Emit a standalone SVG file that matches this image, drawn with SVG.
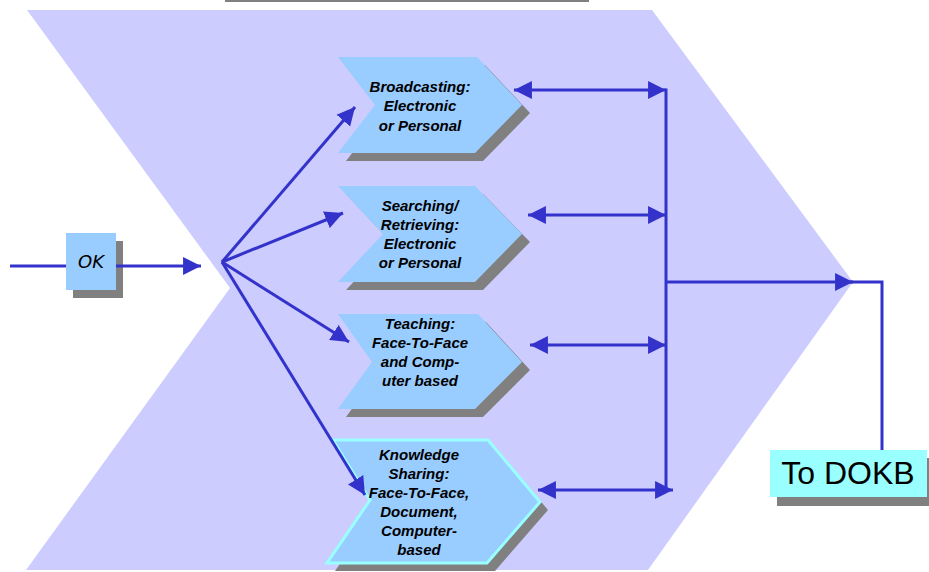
<svg xmlns="http://www.w3.org/2000/svg" width="929" height="572" viewBox="0 0 929 572">
<defs>
<style>
.bg{fill:#CCCCFF}
.shadow{fill:#808080}
.chev{fill:#99CCFF}
.chevk{fill:#99CCFF;stroke:#99FFFF;stroke-width:3}
.lbl{font-family:"Liberation Sans",Arial,sans-serif;font-size:15px;font-weight:bold;font-style:italic;fill:#000;text-anchor:middle}
.conn{stroke:#3333CC;stroke-width:3;fill:none}
</style>
<marker id="ah" markerUnits="userSpaceOnUse" markerWidth="19" markerHeight="19" refX="17" refY="8.5" orient="auto-start-reverse" viewBox="0 0 18 17">
<path d="M0,0 L17,8.5 L0,17 z" fill="#3333CC"/>
</marker>
</defs>
<rect width="929" height="572" fill="#FFFFFF"/>
<line x1="225" y1="1" x2="589" y2="1" stroke="#808080" stroke-width="2"/>
<polygon class="bg" points="27,10 652,10 853,282 648,570 26,570 230,288"/>

<g id="ok">
<rect class="shadow" x="73" y="241" width="50" height="57"/>
<rect class="chev" x="66" y="233" width="50" height="57"/>
<text x="91" y="268" font-family="DejaVu Sans,sans-serif" font-size="18" font-style="italic" text-anchor="middle" fill="#000">OK</text>
</g>

<g id="broadcasting">
<polygon class="shadow" points="346,65 485,65 530,113 483,161 346,161 383,113"/>
<polygon class="chev" points="338,57 477,57 522,105 475,153 338,153 375,105"/>
<text class="lbl" x="420" y="92">Broadcasting:</text>
<text class="lbl" x="420" y="111">Electronic</text>
<text class="lbl" x="420" y="131">or Personal</text>
</g>

<g id="searching">
<polygon class="shadow" points="346,194 483,194 530,242 483,290 346,290 391,242"/>
<polygon class="chev" points="338,186 475,186 522,234 475,282 338,282 383,234"/>
<text class="lbl" x="420" y="211">Searching/</text>
<text class="lbl" x="420" y="230">Retrieving:</text>
<text class="lbl" x="420" y="249">Electronic</text>
<text class="lbl" x="420" y="268">or Personal</text>
</g>

<g id="teaching">
<polygon class="shadow" points="346,322 486,322 530,370 483,417 346,417 380,370"/>
<polygon class="chev" points="338,314 478,314 522,362 475,409 338,409 372,362"/>
<text class="lbl" x="420" y="329">Teaching:</text>
<text class="lbl" x="420" y="348">Face-To-Face</text>
<text class="lbl" x="420" y="367">and Comp-</text>
<text class="lbl" x="420" y="386">uter based</text>
</g>

<g id="knowledge">
<polygon class="shadow" points="341,448 496,448 548,510 495,571 335,571 378,508"/>
<polygon class="chevk" points="333,440 488,440 540,502 487,563 327,563 370,500"/>
<text class="lbl" x="419" y="460">Knowledge</text>
<text class="lbl" x="419" y="479">Sharing:</text>
<text class="lbl" x="419" y="498">Face-To-Face,</text>
<text class="lbl" x="419" y="517">Document,</text>
<text class="lbl" x="419" y="536">Computer-</text>
<text class="lbl" x="419" y="555">based</text>
</g>

<g id="todokb">
<rect class="shadow" x="777" y="458" width="152" height="48"/>
<rect x="770" y="450" width="157" height="47" fill="#99FFFF"/>
<text x="848" y="484" font-family="Liberation Sans,Arial,sans-serif" font-size="32" text-anchor="middle" fill="#000">To DOKB</text>
</g>

<g id="connectors">
<line class="conn" x1="10" y1="266" x2="66" y2="266"/>
<line class="conn" x1="116" y1="266" x2="201" y2="266" marker-end="url(#ah)"/>
<line class="conn" x1="222" y1="262" x2="355" y2="107" marker-end="url(#ah)"/>
<line class="conn" x1="222" y1="262" x2="343" y2="213" marker-end="url(#ah)"/>
<line class="conn" x1="222" y1="262" x2="349" y2="342" marker-end="url(#ah)"/>
<line class="conn" x1="222" y1="262" x2="365" y2="495" marker-end="url(#ah)"/>
<line class="conn" x1="514" y1="90" x2="666" y2="90" marker-start="url(#ah)" marker-end="url(#ah)"/>
<line class="conn" x1="528" y1="215" x2="666" y2="215" marker-start="url(#ah)" marker-end="url(#ah)"/>
<line class="conn" x1="530" y1="345" x2="666" y2="345" marker-start="url(#ah)" marker-end="url(#ah)"/>
<line class="conn" x1="538" y1="490" x2="673" y2="490" marker-start="url(#ah)" marker-end="url(#ah)"/>
<line class="conn" x1="666" y1="88.5" x2="666" y2="491.5"/>
<line class="conn" x1="666" y1="282" x2="853" y2="282" marker-end="url(#ah)"/>
<polyline class="conn" points="850,282 882,282 882,450"/>
</g>
</svg>
